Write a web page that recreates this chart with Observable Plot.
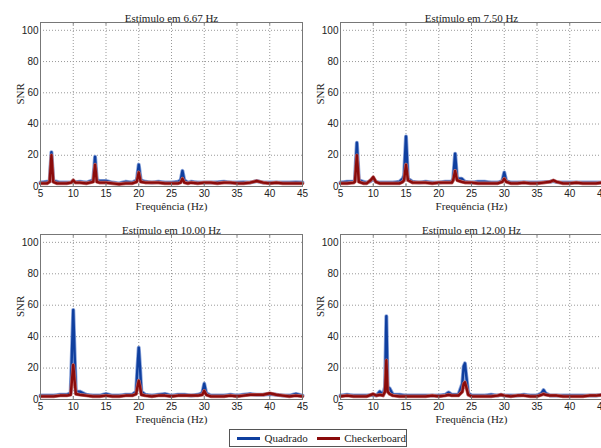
<!DOCTYPE html>
<html><head><meta charset="utf-8">
<script src="https://cdn.jsdelivr.net/npm/d3@7"></script>
<script src="https://cdn.jsdelivr.net/npm/@observablehq/plot@0.6"></script>
<style>
body{margin:0;background:#fff;}
#wrap{position:relative;width:601px;height:448px;overflow:hidden;background:#fff;}
.serif{font-family:"Liberation Serif","Times New Roman",serif !important;}
.sans{font-family:"Liberation Sans",Arial,sans-serif !important;}
#legend{position:absolute;left:229px;top:429px;width:176px;height:16px;border:1px solid #555;background:#fff;
 font-family:"Liberation Serif","Times New Roman",serif;font-size:11px;display:flex;align-items:center;box-sizing:content-box;color:#222;}
#legend .ln{display:inline-block;width:25px;height:3px;margin:0 4px 0 7px;}
</style></head><body>
<div id="wrap"></div>
<script>
const titles = ["Estímulo em 6.67 Hz","Estímulo em 7.50 Hz","Estímulo em 10.00 Hz","Estímulo em 12.00 Hz"];
const seriesNames = ["Quadrado","Checkerboard"];
const xTicks = [5,10,15,20,25,30,35,40,45];
const yTicks = [0,20,40,60,80,100];

const f1 = [5,6,6.4,6.67,6.95,7.5,8,9,9.7,10,10.3,11,12,13.05,13.33,13.6,14,15,16,17,18,19,19.7,20,20.3,21,22,23,24,25,26,26.4,26.67,26.95,27.5,28,29,30,31,32,33,34,35,36,37,38,39,40,41,42,43,44,45];
const blue1 = [2.5,3,3.5,22,3.5,3,2.5,2.5,2.8,3.5,2.8,3,2.5,4,19,4,3.5,3.5,2.5,2,3,2.5,4,14,4,3,2.5,3,2.5,2.5,3,4,10,4,2.5,3,2.5,2.5,2.5,2.8,3,2.5,2.5,2.8,2.5,3.5,2.5,2.5,2.5,2.5,2.5,2.8,2.5];
const red1 = [2,2,3,20,3,2,2,2,2.5,4,2.5,2.5,2,3,14,3,2.5,2.5,2,1.5,2,2,3,9,3,2.5,2.5,2.5,2,2,2,2.5,5,2.5,2,2.5,2,2.5,2.5,2,2.5,2.5,2,2,2.5,3.5,2.5,2,2.5,2,2,2,2];

const f2 = [5,6,7,7.2,7.5,7.8,8.5,9,9.6,10,10.4,11,12,13,14,14.5,14.7,15,15.3,16,17,18,19,20,21,22,22.2,22.5,22.8,23.5,24,25,26,27,28,29,29.7,30,30.3,31,32,33,34,35,36,37,37.5,38,39,40,41,42,43,44,45];
const blue2 = [2.5,3,3,4,28,4,3,2.5,3.5,5,3,2.5,2.5,2.5,3,5,7,32,5,3,2.5,3,2.5,2.5,3,3,5,21,5,5,3,2.5,3,3,2.5,2.5,3.5,9,3.5,2.5,2.5,2.8,2.5,2.5,2.8,3,3.5,2.8,2.5,2.5,2.5,2.5,2.5,2.5,2.5];
const red2 = [2,2,2.5,3,20,3,2,2,4,6,3,2,2,2,2,3,4,14,4,2.5,2.5,2.5,2,2.5,2.5,2.5,4,10,4,3,2.5,2.5,2,2,2,2,3,5,3,2,2,2.5,2,2,2.5,3,4,3,2,2,2.5,2,2,2,2.5];

const f3 = [5,6,7,8,9,9.6,9.8,10,10.2,10.4,11,12,13,14,15,16,17,18,19,19.6,19.8,20,20.2,20.4,21,22,23,24,25,26,27,28,29,29.7,30,30.3,31,32,33,34,35,36,37,38,39,40,41,42,43,44,45];
const blue3 = [2.5,2.5,2.5,3,3,4,30,57,30,5,5,3,2.5,2.5,3.5,2.5,2.5,3,3,5,20,33,20,5,3,2.5,3,3.5,2.5,3,3,2.5,3,4,10,4,2.5,2.5,2.5,3,2.5,3,3.5,3,3,3.5,3,2.5,2.5,3.5,2.5];
const red3 = [2,2,2,2.5,2.5,3,12,22,12,3.5,3,2.5,2,2,2.5,2,2,2.5,2.5,3.5,8,12,8,3,2.5,2,2.5,2.5,2,2.5,2.5,2.5,2.5,3,5.5,3,2,2,2,2.5,2,2.5,3,3,3,4,3,2.5,2,2.5,2];

const f4 = [5,6,7,8,9,10,10.5,11,11.5,11.8,12,12.2,12.5,13,14,15,16,17,18,19,20,21,21.5,22,23,23.6,23.8,24,24.2,24.5,25,26,27,28,29,29.5,30,31,32,33,34,35,35.7,36,36.3,37,38,39,40,41,42,43,44,45];
const blue4 = [2.5,3,2.5,2.5,2.5,3,2.5,5,3,8,53,8,7,3,3,2.5,2.5,2.5,2.5,2.5,2.5,3,4.5,3,3,10,21,23,15,4,2.5,2.5,2.5,3,2.5,3,2.5,2.5,2.5,3,2.5,2.5,4,6,4,2.5,2.5,2.5,2.5,2.5,2.5,2.5,2.5,3];
const red4 = [2,2.5,2,2,2,3.5,2.5,3,2.5,5,25,5,3.5,2.5,2,2,2,2,2,2.5,2,2.5,3,2.5,2.5,5,10,11,8,3,2,2,2,2,2.5,3,2.5,2,2.5,2.5,2,2,3,3.5,3,2.5,2.5,2,2,2,2,2.5,2.5,3];

const panels = [
  {f:f1, b:blue1, r:red1, left:0, top:0, h:215, mt:22, mb:29},
  {f:f2, b:blue2, r:red2, left:300, top:0, h:215, mt:22, mb:29},
  {f:f3, b:blue3, r:red3, left:0, top:220, h:210, mt:14, mb:31},
  {f:f4, b:blue4, r:red4, left:300, top:220, h:210, mt:14, mb:31}
];
const BLUE = "#0f3f9f", RED = "#8a0b0b";
const wrap = document.getElementById("wrap");

panels.forEach((p, i) => {
  const data = p.f.map((f, k) => ({f, b: p.b[k], r: p.r[k]}));
  const chart = Plot.plot({
    width: 302, height: p.h,
    marginLeft: 40, marginRight: 0, marginTop: p.mt, marginBottom: p.mb,
    style: {background: "transparent", overflow: "visible"},
    x: {domain: [5, 45]},
    y: {domain: [0, 105]},
    marks: [
      Plot.gridX(xTicks.slice(1, -1), {stroke: "#999", strokeOpacity: 1, strokeDasharray: "1,2"}),
      Plot.gridY(yTicks.slice(1), {stroke: "#999", strokeOpacity: 1, strokeDasharray: "1,2"}),
      Plot.lineY(data, {x: "f", y: "b", stroke: "#8ba4da", strokeWidth: 4}),
      Plot.lineY(data, {x: "f", y: "b", stroke: BLUE, strokeWidth: 2.4}),
      Plot.lineY(data, {x: "f", y: "r", stroke: "#c27474", strokeWidth: 3.6}),
      Plot.lineY(data, {x: "f", y: "r", stroke: RED, strokeWidth: 2.4}),
      Plot.frame({stroke: "#777"}),
      Plot.ruleX(xTicks, {x: d => d, y1: 0, y2: 1.8, stroke: "#777"}),
      Plot.ruleX(xTicks, {x: d => d, y1: 103.2, y2: 105, stroke: "#777"}),
      Plot.axisX(xTicks, {tickSize: 0, tickPadding: 3, label: null, fontSize: 10, className: "sans", fill: "#222"}),
      Plot.axisY(yTicks, {tickSize: 0, tickPadding: 2, label: null, fontSize: 10, className: "sans", fill: "#222"}),
      Plot.text([titles[i]], {frameAnchor: "top", dy: -8, fontSize: 11, className: "serif", fill: "#222"}),
      Plot.text(["Frequência (Hz)"], {frameAnchor: "bottom", dy: 23, fontSize: 11, className: "serif", fill: "#222"}),
      Plot.text(["SNR"], {frameAnchor: "left", dx: -20, rotate: -90, fontSize: 11, className: "serif", fill: "#222"})
    ]
  });
  chart.style.left = p.left + "px";
  chart.style.top = p.top + "px";
  chart.style.position = "absolute";
  wrap.appendChild(chart);
});

const legend = document.createElement("div");
legend.id = "legend";
legend.innerHTML = `<span class="ln" style="background:${BLUE}"></span><span>${seriesNames[0]}</span>` +
  `<span class="ln" style="background:${RED};margin-left:9px"></span><span>${seriesNames[1]}</span>`;
wrap.appendChild(legend);
</script>
</body></html>
